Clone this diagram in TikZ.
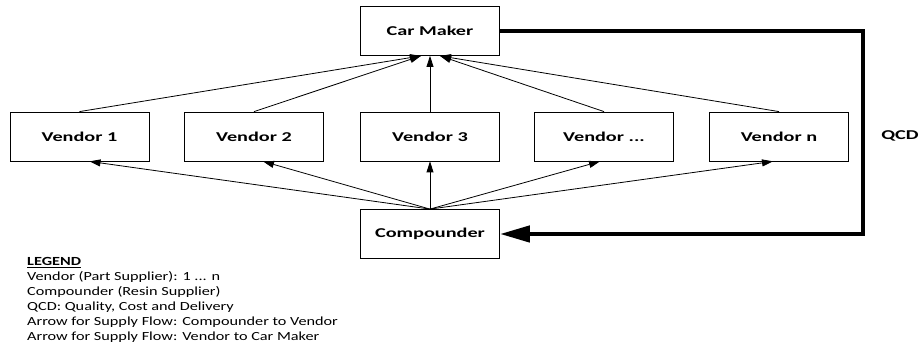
\documentclass[tikz,border=0pt]{standalone}
\usepackage{fontspec}
\usepackage{graphicx}
\setmainfont{Carlito}
\usetikzlibrary{arrows.meta,calc}
\newcommand\hs[1]{\scalebox{1.5}[1]{#1}}
\newcommand\hl[1]{\scalebox{1.31}[1]{#1}}
\tikzset{
  box/.style={draw=black, line width=0.8pt, minimum width=139pt, minimum height=49pt, inner sep=0pt, font=\fontsize{13.5}{15}\selectfont\bfseries},
  flow/.style={line width=0.8pt, -{Triangle[length=11pt,width=7pt]}},
  qcdflow/.style={line width=4.5pt, line join=miter, -{Triangle[length=30pt,width=16pt]}}
}
\begin{document}
\begin{tikzpicture}[x=1pt,y=-1pt]
\useasboundingbox (0,0) rectangle (919,344);
\node[box] (car) at (430,31) {\hs{Car Maker}};
\node[box] (v1) at (79.5,136.5) {\hs{Vendor 1}};
\node[box] (v2) at (254,136.5) {\hs{Vendor 2}};
\node[box] (v3) at (430,136.5) {\hs{Vendor 3}};
\node[box] (v4) at (604,136.5) {\hs{Vendor ...}};
\node[box] (v5) at (779,136.5) {\hs{Vendor n}};
\node[box] (comp) at (430,234) {\hs{Compounder}};
\node[font=\fontsize{13.5}{15}\selectfont\bfseries] (qcd) at (900,136) {\hs{QCD}};
% convergence points
\coordinate (cl) at ($(car.south)+(-9,0)$);
\coordinate (cr) at ($(car.south)+(10,0)$);
\draw[flow] (v1.north) -- (cl);
\draw[flow] (v2.north) -- (cl);
\draw[flow] (v3.north) -- (car.south);
\draw[flow] (v4.north) -- (cr);
\draw[flow] (v5.north) -- (cr);
% compounder to vendors
\coordinate (b1) at ($(v1.south)+(10,0)$);
\coordinate (b2) at ($(v2.south)+(9,0)$);
\coordinate (b4) at ($(v4.south)+(-4,0)$);
\coordinate (b5) at ($(v5.south)+(-6,0)$);
\draw[flow] (comp.north) -- (b1);
\draw[flow] (comp.north) -- (b2);
\draw[flow] (comp.north) -- (v3.south);
\draw[flow] (comp.north) -- (b4);
\draw[flow] (comp.north) -- (b5);
% QCD feedback
\coordinate (qx) at (863,0);
\draw[qcdflow] (car.east) -- (qx |- car.east) -- (qx |- comp.east) -- (comp.east);
% legend
\node[anchor=north west, inner sep=0pt, font=\fontsize{12.4}{15}\selectfont] (legend) at (27,255) {\hl{\begin{tabular}{@{}l@{}}
\underline{\textbf{LEGEND}}\\
Vendor (Part Supplier): 1 ... n\\
Compounder (Resin Supplier)\\
QCD: Quality, Cost and Delivery\\
Arrow for Supply Flow: Compounder to Vendor\\
Arrow for Supply Flow: Vendor to Car Maker
\end{tabular}}};
\end{tikzpicture}
\end{document}
